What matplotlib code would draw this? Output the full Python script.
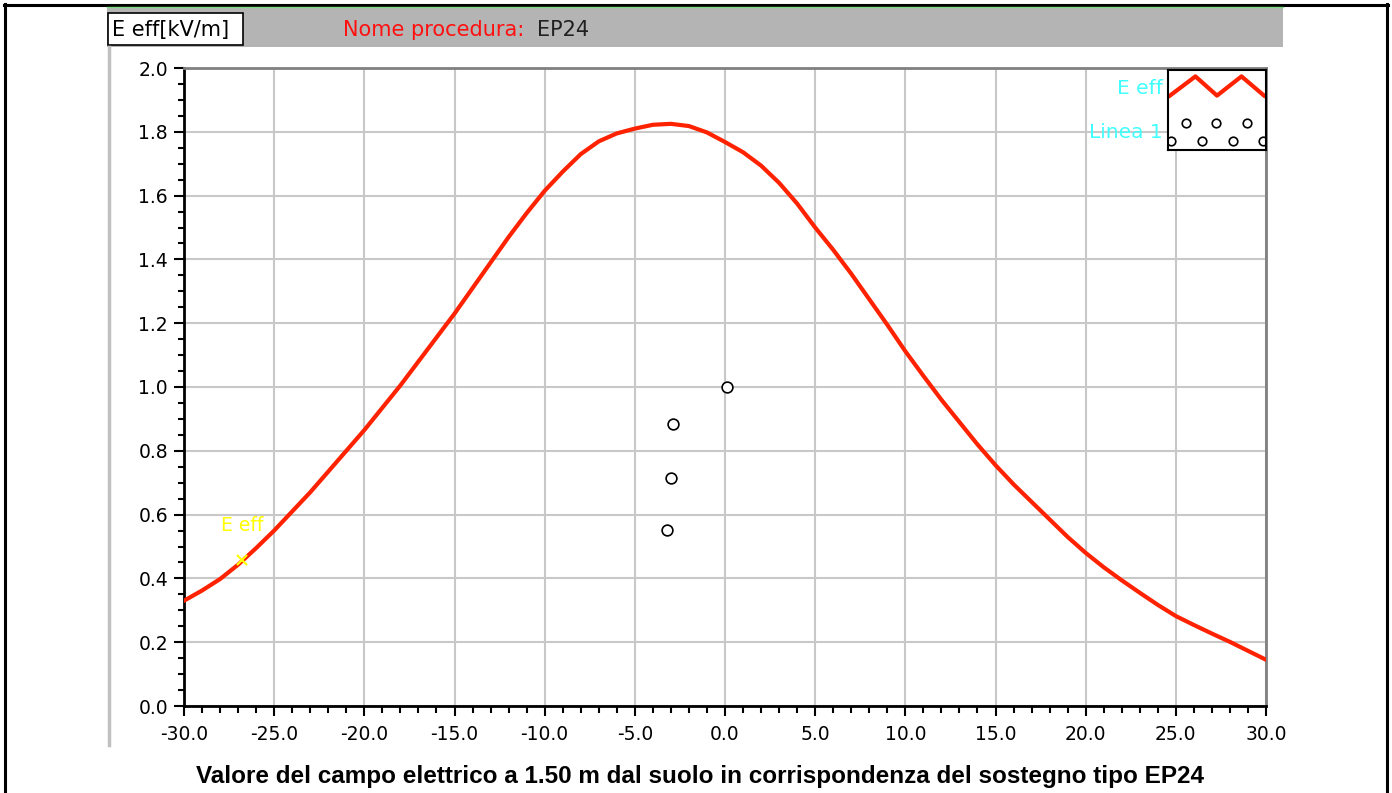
import matplotlib
matplotlib.use("Agg")
import matplotlib.pyplot as plt
from matplotlib.ticker import MultipleLocator, FormatStrFormatter
from matplotlib.patches import Rectangle
from matplotlib.lines import Line2D

# ---- data ----
dist_m = [-30, -29, -28, -27, -26, -25, -24, -23, -22, -21, -20, -19, -18, -17, -16,
          -15, -14, -13, -12, -11, -10, -9, -8, -7, -6, -5, -4, -3, -2, -1,
          0, 1, 2, 3, 4, 5, 6, 7, 8, 9, 10, 11, 12, 13, 14,
          15, 16, 17, 18, 19, 20, 21, 22, 23, 24, 25, 26, 27, 28, 29, 30]
e_eff = [0.330, 0.362, 0.398, 0.443, 0.495, 0.550, 0.610, 0.670, 0.735, 0.800,
         0.865, 0.935, 1.005, 1.080, 1.155, 1.230, 1.310, 1.390, 1.470, 1.545,
         1.615, 1.675, 1.730, 1.770, 1.795, 1.810, 1.822, 1.825, 1.818, 1.798,
         1.768, 1.736, 1.694, 1.640, 1.575, 1.500, 1.430, 1.355, 1.275, 1.195,
         1.112, 1.035, 0.960, 0.890, 0.820, 0.755, 0.695, 0.640, 0.585, 0.530,
         0.480, 0.435, 0.394, 0.355, 0.317, 0.282, 0.254, 0.227, 0.201, 0.173, 0.145]
linea1_x = [0.1, -2.9, -3.0, -3.2]
linea1_y = [1.0, 0.885, 0.715, 0.552]
cursor_x = [-26.8]
cursor_y = [0.457]
xticks = [-30, -25, -20, -15, -10, -5, 0, 5, 10, 15, 20, 25, 30]
yticks = [0.0, 0.2, 0.4, 0.6, 0.8, 1.0, 1.2, 1.4, 1.6, 1.8, 2.0]

W, H = 1392, 793
fig = plt.figure(figsize=(W / 100, H / 100), dpi=100)
fig.patch.set_facecolor("white")

def fx(px):
    return px / W

def fy(py):
    return 1 - py / H

# outer border
fig.add_artist(Line2D([fx(5), fx(5)], [fy(4), fy(793)], color="black", lw=2.2))
fig.add_artist(Line2D([fx(1387), fx(1387)], [fy(4), fy(793)], color="black", lw=2.2))
fig.add_artist(Line2D([fx(4), fx(1388)], [fy(5), fy(5)], color="black", lw=2.2))

# header bar
fig.add_artist(Rectangle((fx(107), fy(47)), fx(1283 - 107), (47 - 6) / H,
                         facecolor="#b4b4b4", edgecolor="none"))
fig.add_artist(Line2D([fx(107), fx(1283)], [fy(6.5), fy(6.5)], color="#7fdc7f", lw=1.0))
fig.add_artist(Rectangle((fx(108), fy(45)), fx(243 - 108), (45 - 13) / H,
                         facecolor="white", edgecolor="black", lw=1.2))
fig.text(fx(112), fy(30), "E eff[kV/m]", fontsize=15, color="black", va="center", ha="left")
fig.text(fx(343), fy(30), "Nome procedura:", fontsize=15, color="#ff1010", va="center", ha="left")
fig.text(fx(537), fy(30), "EP24", fontsize=15, color="#202020", va="center", ha="left")

# left light gray panel line
fig.add_artist(Line2D([fx(108.5), fx(108.5)], [fy(47), fy(745)], color="#c0c0c0", lw=2.5))

# main axes
ax = fig.add_axes([fx(184), fy(706), fx(1266 - 184), (706 - 68) / H])
ax.set_xlim(-30, 30)
ax.set_ylim(0, 2.0)
ax.grid(True, which="major", color="#c8c8c8", lw=1.5)
ax.set_axisbelow(True)

ax.plot(dist_m, e_eff, color="#ff2200", lw=3.0, zorder=3)
ax.scatter(linea1_x, linea1_y, s=60, marker="o", facecolors="white",
           edgecolors="black", linewidths=1.2, zorder=4)
ax.plot(cursor_x, cursor_y, marker="x", color="#ffff00", ms=7, mew=1.5, ls="none", zorder=5)
ax.text(cursor_x[0], cursor_y[0] + 0.11, "E eff", color="#ffff00", fontsize=13.5,
        ha="center", va="center", zorder=5)

ax.set_xticks(xticks)
ax.set_yticks(yticks)
ax.xaxis.set_minor_locator(MultipleLocator(1.0))
ax.yaxis.set_minor_locator(MultipleLocator(0.05))
ax.xaxis.set_major_formatter(FormatStrFormatter("%.1f"))
ax.yaxis.set_major_formatter(FormatStrFormatter("%.1f"))
ax.tick_params(axis="both", which="major", direction="out", length=7.5, width=1.5,
               labelsize=13.5, colors="black", pad=4)
ax.tick_params(axis="x", which="major", pad=6)
ax.tick_params(axis="both", which="minor", direction="out", length=4, width=1.5)
ax.tick_params(axis="x", which="minor", length=5)

for s in ["left", "bottom"]:
    ax.spines[s].set_color("black")
    ax.spines[s].set_linewidth(2.0)
for s in ["top", "right"]:
    ax.spines[s].set_color("#808080")
    ax.spines[s].set_linewidth(2.0)

# legend box (top right)
lax = fig.add_axes([fx(1168), fy(150), fx(1266 - 1168), (150 - 70) / H])
lax.set_xlim(0, 1)
lax.set_ylim(0, 1)
lax.set_xticks([])
lax.set_yticks([])
for s in lax.spines.values():
    s.set_color("black")
    s.set_linewidth(1.5)
lax.plot([0.02, 0.28, 0.50, 0.75, 0.98], [0.68, 0.92, 0.68, 0.92, 0.68],
         color="#ff2200", lw=3.0)
lax.scatter([0.18, 0.49, 0.81], [0.34, 0.34, 0.34], s=38, marker="o",
            facecolors="white", edgecolors="black", linewidths=1.2)
lax.scatter([0.03, 0.35, 0.66, 0.97], [0.11, 0.11, 0.11, 0.11], s=38, marker="o",
            facecolors="white", edgecolors="black", linewidths=1.2)
fig.text(fx(1163), fy(88), "E eff", color="#40ffff", fontsize=14.5, ha="right", va="center")
fig.text(fx(1163), fy(132), "Linea 1", color="#40ffff", fontsize=14.5, ha="right", va="center")

# caption
fig.text(fx(700), fy(776), "Valore del campo elettrico a 1.50 m dal suolo in corrispondenza del sostegno tipo EP24",
         fontsize=17.5, fontweight="bold", family=["Liberation Sans", "DejaVu Sans"],
         ha="center", va="center", color="black")

fig.savefig("out.png", dpi=100)
